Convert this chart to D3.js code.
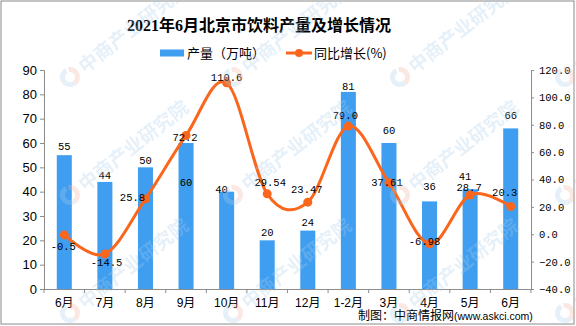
<!DOCTYPE html>
<html><head><meta charset="utf-8">
<script src="https://cdn.jsdelivr.net/npm/d3@7/dist/d3.min.js"></script>
<style>
html,body{margin:0;padding:0;background:#fff;}
svg{display:block;}
</style></head>
<body>
<svg id="c" width="576" height="326"></svg>
<script>
// ---- data ----
const categories = ["6月","7月","8月","9月","10月","11月","12月","1-2月","3月","4月","5月","6月 "];
const production = [55,44,50,60,40,20,24,81,60,36,41,66];
const growth = [-0.5,-14.5,25.8,72.2,110.6,29.54,23.47,79.0,37.61,-6.98,28.7,20.3];
const growthLabels = ["-0.5","-14.5","25.8","72.2","110.6","29.54","23.47","79.0","37.61","-6.98","28.7","20.3"];
const leftTicks = [0,10,20,30,40,50,60,70,80,90];
const rightTicks = [-40,-20,0,20,40,60,80,100,120];

// label placement offsets (layout only)
const barLabelDx = [0,0,0,0,-5,0,0,0,0,0,-5,0];
const barLabelDy = [-9,-7,-7,39,-2,-8,-8.6,-6,-13,-15,-12.5,-13];
const lineLabelDx = [-1,1.7,-13,-1,0,3,-1,-3,-2,-5,-1,-6];
const lineLabelDy = [11,8,-2,2,-6,-11,-13,-11,0,-2,-8,-14];

const barColor = "#3f9ef0";
const lineColor = "#fa661b";
const axisColor = "#8c8c8c";
const cjk = "'Noto Sans CJK SC','Liberation Sans',sans-serif";
const mono = "'Liberation Mono','DejaVu Sans Mono',monospace";

const svg = d3.select("#c");
const L = 44, R = 531, T = 70, B = 289;

const x = d3.scaleBand().domain(categories).range([L,R]).paddingInner(0.63).paddingOuter(0.315);
const yL = d3.scaleLinear().domain([0,90]).range([B,T]);
const yR = d3.scaleLinear().domain([-40,120]).range([B,T]);

// frame
svg.append("rect").attr("x",1).attr("y",1).attr("width",573).attr("height",323)
  .attr("fill","none").attr("stroke","#8a8a8a").attr("stroke-width",1);

// title
svg.append("text").attr("x",259).attr("y",31).attr("text-anchor","middle")
  .attr("font-family","'Liberation Serif'," + cjk).attr("font-weight","bold")
  .attr("font-size",16).attr("fill","#000").text("2021年6月北京市饮料产量及增长情况");

// legend
svg.append("rect").attr("x",160).attr("y",49.5).attr("width",24).attr("height",7).attr("fill",barColor);
svg.append("text").attr("x",187).attr("y",58).attr("font-family",cjk).attr("font-size",13).attr("fill","#000").text("产量（万吨）");
svg.append("line").attr("x1",286).attr("x2",312).attr("y1",53).attr("y2",53).attr("stroke",lineColor).attr("stroke-width",3);
svg.append("circle").attr("cx",299).attr("cy",53).attr("r",4).attr("fill",lineColor);
svg.append("text").attr("x",314).attr("y",58).attr("font-family",cjk).attr("font-size",13).attr("fill","#000").text("同比增长(%)");

// bars
svg.append("g").selectAll("rect").data(production).join("rect")
  .attr("x",(d,i)=>x(categories[i])).attr("width",x.bandwidth())
  .attr("y",d=>yL(d)).attr("height",d=>B-yL(d)).attr("fill",barColor);

// axes
const gL = svg.append("g").attr("transform",`translate(${L},0)`)
  .call(d3.axisLeft(yL).tickValues(leftTicks).tickSize(4).tickPadding(3).tickFormat(d3.format("d")));
gL.selectAll("text").attr("font-family","'Liberation Sans',Arial,sans-serif").attr("font-size",13).attr("fill","#000");
const gR = svg.append("g").attr("transform",`translate(${R},0)`)
  .call(d3.axisRight(yR).tickValues(rightTicks).tickSize(3).tickPadding(5).tickFormat(d3.format(".1f")));
gR.selectAll("text").attr("font-family",mono).attr("font-size",10.5).attr("fill","#000");
const gX = svg.append("g").attr("transform",`translate(0,${B})`)
  .call(d3.axisBottom(x).tickSize(0).tickPadding(9).tickFormat(d=>d.trim()));
gX.selectAll("text").attr("font-family","'Liberation Sans'," + cjk).attr("font-size",12).attr("fill","#000");
[gL,gR,gX].forEach(g=>{g.select(".domain").attr("stroke",axisColor); g.selectAll(".tick line").attr("stroke",axisColor);});
gX.select(".domain").attr("d",`M${L},0.5H${R}`);
// x ticks between categories
const bounds = d3.range(categories.length+1).map(i=>L + i*x.step());
svg.append("g").selectAll("line").data(bounds).join("line")
  .attr("x1",d=>d).attr("x2",d=>d).attr("y1",B).attr("y2",B+4).attr("stroke",axisColor);

// line
const line = d3.line().x((d,i)=>x(categories[i])+x.bandwidth()/2).y(d=>yR(d)).curve(d3.curveCardinal.tension(0));
svg.append("path").datum(growth).attr("d",line).attr("fill","none").attr("stroke",lineColor).attr("stroke-width",3);
svg.append("g").selectAll("circle").data(growth).join("circle")
  .attr("cx",(d,i)=>x(categories[i])+x.bandwidth()/2).attr("cy",d=>yR(d)).attr("r",4.5).attr("fill",lineColor);

// bar labels
svg.append("g").selectAll("text").data(production).join("text")
  .attr("x",(d,i)=>x(categories[i])+x.bandwidth()/2+barLabelDx[i])
  .attr("y",(d,i)=>yL(d)+barLabelDy[i]).attr("dy","0.35em")
  .attr("text-anchor","middle").attr("font-family",mono).attr("font-size",10.5).attr("fill","#000")
  .text(d=>d);
// line labels
svg.append("g").selectAll("text").data(growth).join("text")
  .attr("x",(d,i)=>x(categories[i])+x.bandwidth()/2+lineLabelDx[i])
  .attr("y",(d,i)=>yR(d)+lineLabelDy[i]).attr("dy","0.35em")
  .attr("text-anchor","middle").attr("font-family",mono).attr("font-size",10.5).attr("fill","#000")
  .text((d,i)=>growthLabels[i]);

// source
const src = svg.append("text").attr("x",358).attr("y",320).attr("font-family",cjk).attr("font-size",12).attr("fill","#000");
src.append("tspan").text("制图：中商情报网");
src.append("tspan").attr("font-family","'Liberation Sans',sans-serif").attr("font-size",10.5).text("(www.askci.com)");

// watermark
const wmX = [70,233,400,565], wmY = [77,195,313];
const wm = svg.append("g").attr("opacity",0.3).attr("pointer-events","none");
wmY.forEach(wy=>wmX.forEach(wx=>{
  const g = wm.append("g").attr("transform",`translate(${wx},${wy}) rotate(-38)`);
  g.append("path").attr("d",d3.arc()({innerRadius:5,outerRadius:10,startAngle:Math.PI*0.15,endAngle:Math.PI*1.0})).attr("fill","#f2b3a0");
  g.append("path").attr("d",d3.arc()({innerRadius:5,outerRadius:10,startAngle:Math.PI*1.0,endAngle:Math.PI*2.05})).attr("fill","#a9cdec");
  g.append("text").attr("x",14).attr("y",7).attr("font-family",cjk).attr("font-weight","bold").attr("font-size",19).attr("fill","#a9cdec").text("中商产业研究院");
}));
</script>
</body></html>
